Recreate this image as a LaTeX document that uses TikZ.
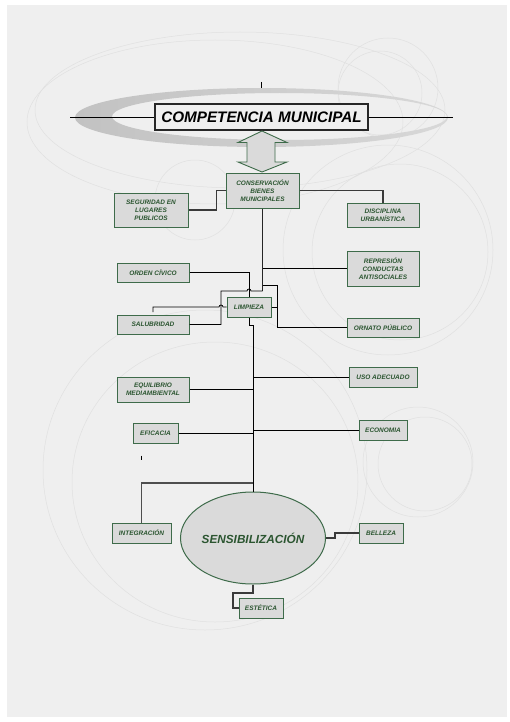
\documentclass[tikz,border=0pt]{standalone}
\usepackage{fontspec}
\setmainfont{Liberation Sans}
\usetikzlibrary{shapes.geometric}
\definecolor{pagebg}{HTML}{EFEFEF}
\definecolor{faint}{HTML}{E0E0E0}
\definecolor{swooshL}{HTML}{C2C2C2}
\definecolor{swooshR}{HTML}{D8D8D8}
\definecolor{boxfill}{HTML}{DADADA}
\definecolor{boxedge}{HTML}{3E6B4A}
\definecolor{txtgreen}{HTML}{2B5530}
\definecolor{darkline}{HTML}{3A3A3A}
\newcommand{\boxfont}{\fontsize{6.5}{7.9}\selectfont\bfseries\itshape}
\tikzset{
  box/.style={draw=boxedge, fill=boxfill, line width=1bp, inner sep=0pt, align=center,
              text=txtgreen, font=\boxfont},
  thinline/.style={draw=black, line width=0.75bp},
  thickline/.style={draw=darkline, line width=1.6bp},
  bgring/.style={draw=faint, line width=0.5bp},
}
\begin{document}
\begin{tikzpicture}[x=1bp,y=-1bp]
\useasboundingbox (0,0) rectangle (510,722);
\fill[white] (0,0) rectangle (510,722);
\fill[pagebg] (7,5) rectangle (507,717);

% faint decorative rings
\draw[bgring] (240,110) ellipse [x radius=205, y radius=78];
\draw[bgring] (215,122) ellipse [x radius=188, y radius=82];
\draw[bgring] (388,88) circle [radius=50];
\draw[bgring] (380,93) circle [radius=42];
\draw[bgring] (388,250) circle [radius=105];
\draw[bgring] (400,252) circle [radius=88];
\draw[bgring] (205,470) ellipse [x radius=162, y radius=160];
\draw[bgring] (215,482) ellipse [x radius=143, y radius=140];
\draw[bgring] (418,462) circle [radius=55];
\draw[bgring] (425,464) circle [radius=47];
\draw[bgring] (195,200) circle [radius=40];

% swoosh
\shade[left color=swooshL, right color=swooshR, even odd rule]
  (261.5,117.5) ellipse [x radius=186.5, y radius=29.5]
  (279.5,116.5) ellipse [x radius=167.5, y radius=23.5];

% title
\coordinate (tl) at (70,117);
\coordinate (tr) at (453,117);
\node[draw=black!85, fill=pagebg, line width=1.2bp, minimum width=213bp, minimum height=26bp,
      inner sep=0pt, font=\fontsize{15.3}{18}\selectfont\bfseries\itshape] (title) at (261.5,117) {COMPETENCIA MUNICIPAL};
\draw[thinline] (tl) -- (title.west);
\draw[thinline] (title.east) -- (tr);
\coordinate (tick1a) at (261,82);
\coordinate (tick1b) at (261,88);
\draw[thinline] (tick1a) -- (tick1b);

% double arrow
\draw[boxedge, fill=boxfill, line width=0.9bp, line join=miter]
  (262,131) -- (287,142.5) -- (275,142.5) -- (275,162) -- (287,162) -- (262,172)
  -- (238,162) -- (247,162) -- (247,142.5) -- (238,142.5) -- cycle;

% boxes
\node[box, minimum width=73bp, minimum height=35bp] (cons) at (262.5,190.5) {CONSERVACIÓN\\BIENES\\MUNICIPALES};
\node[box, minimum width=74bp, minimum height=34bp] (seg) at (151,210) {SEGURIDAD EN\\LUGARES\\PUBLICOS};
\node[box, minimum width=72bp, minimum height=24bp] (disc) at (383,215) {DISCIPLINA\\URBANÍSTICA};
\node[box, minimum width=72bp, minimum height=35bp] (rep) at (383,268.5) {REPRESIÓN\\CONDUCTAS\\ANTISOCIALES};
\node[box, minimum width=72bp, minimum height=19bp] (orden) at (153,272.5) {ORDEN CÍVICO};
\node[box, minimum width=44bp, minimum height=20bp] (limp) at (249,307) {LIMPIEZA};
\node[box, minimum width=72bp, minimum height=19bp] (salu) at (153,324.5) {SALUBRIDAD};
\node[box, minimum width=72bp, minimum height=19bp] (orn) at (383,327.5) {ORNATO PÚBLICO};
\node[box, minimum width=68bp, minimum height=20bp] (uso) at (383,377) {USO ADECUADO};
\node[box, minimum width=72bp, minimum height=25bp] (equi) at (153,389.5) {EQUILIBRIO\\MEDIAMBIENTAL};
\node[box, minimum width=45bp, minimum height=20bp] (efi) at (155.5,433) {EFICACIA};
\node[box, minimum width=48bp, minimum height=20bp] (eco) at (383,430) {ECONOMIA};
\node[box, minimum width=59bp, minimum height=20bp] (integ) at (141.5,533) {INTEGRACIÓN};
\node[box, minimum width=44bp, minimum height=20bp] (bell) at (381,533) {BELLEZA};
\node[box, minimum width=44bp, minimum height=20bp] (este) at (261,608) {ESTÉTICA};
\node[draw=boxedge, fill=boxfill, line width=1bp, ellipse, minimum width=138bp, minimum height=92bp,
      inner sep=0pt, text=txtgreen, font=\fontsize{11.8}{14}\selectfont\bfseries\itshape] (sens) at (253,538) {SENSIBILIZACIÓN};

% connectors from CONSERVACIÓN
\draw[thickline] (cons.west) -- ++(-9,0) |- (seg.east);
\draw[thickline] (cons.east) -| (disc.north);
\coordinate (j1) at (262.5,291);
\draw[draw=black!85, line width=1.8bp] (cons.south) -- (j1);
\draw[thinline] (cons.south |- rep.west) -- (rep.west);
\coordinate (j2) at (262.5,285);
\coordinate (j3) at (277,285);
\draw[thinline] (j2) -- (j3) |- (orn.west);
\draw[thinline] (limp.east) -- (j3 |- limp.east);

% orden civico to limpieza
\draw[thinline] (orden.east) -| (limp.north);
% j1 to salubridad with bump over the limpieza feeder
\coordinate (j4) at (221,291);
\draw[thinline] (j1) -- (251,291) arc[start angle=0, end angle=180, radius=2bp] -- (j4) |- (salu.east);
% limpieza left stub with bump
\coordinate (stub1) at (153,307);
\coordinate (stub2) at (153,312);
\draw[thinline] (limp.west) -- (223,307) arc[start angle=0, end angle=180, radius=2bp] -- (stub1) -- (stub2);
% limpieza down to sensibilizacion
\coordinate (j5) at (249,325);
\draw[thinline] (limp.south) -- (j5) -| (sens.north);

% branches from the trunk
\draw[thinline] (sens.north |- uso.west) -- (uso.west);
\draw[thinline] (equi.east) -- (sens.north |- equi.east);
\draw[thinline] (efi.east) -- (sens.north |- efi.east);
\draw[thinline] (sens.north |- eco.west) -- (eco.west);
\coordinate (j6) at (253,483);
\draw[thickline, draw=darkline!90] (j6) -| (integ.north);
\coordinate (tick2a) at (141,455.5);
\coordinate (tick2b) at (141,459.5);
\draw[thinline] (tick2a) -- (tick2b);

% around sensibilizacion
\draw[thickline] (sens.east) -- ++(9,0) |- (bell.west);
\coordinate (j7) at (233,593);
\draw[thickline] (sens.south) |- (j7) |- (este.west);
\end{tikzpicture}
\end{document}
